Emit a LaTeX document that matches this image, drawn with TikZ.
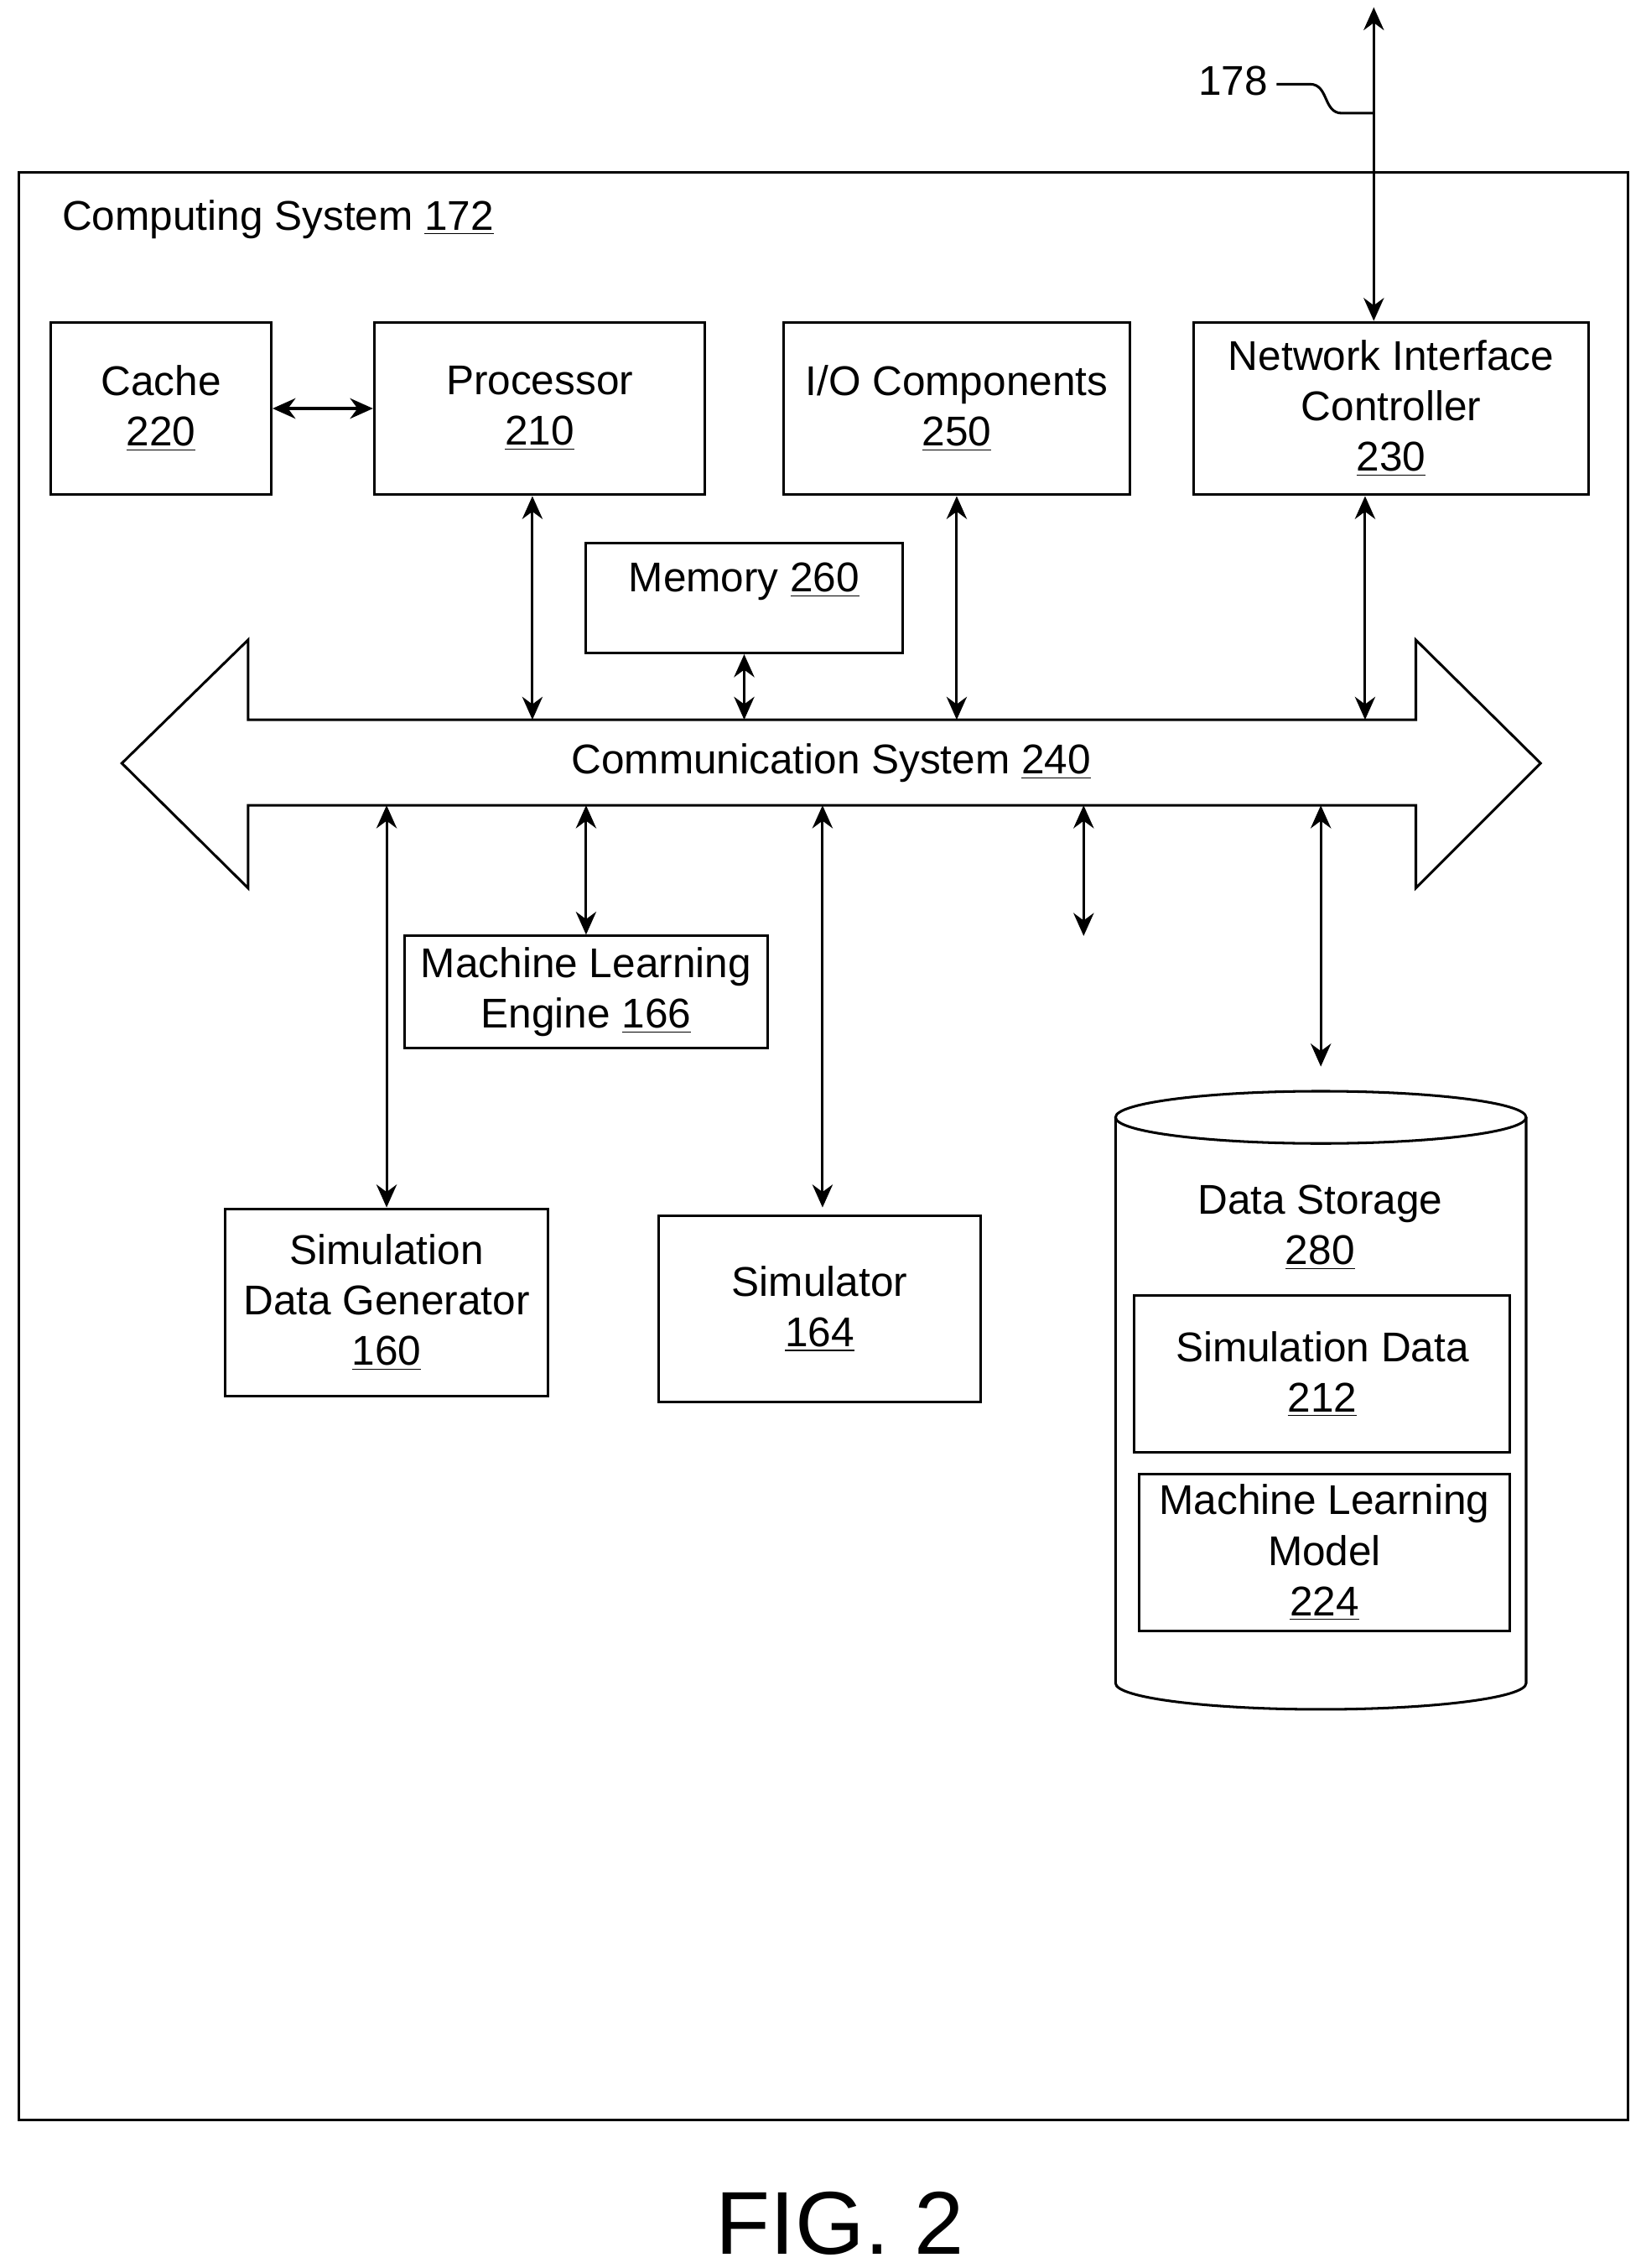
\documentclass[tikz,border=0pt]{standalone}
\usepackage{fontspec}
\setmainfont{Liberation Sans}
\usetikzlibrary{arrows.meta}
\newcommand\mybox[6]{\node[box,minimum width={(#4-#2)*0.02cm},minimum height={(#5-#3)*0.02cm}] (#1) at ({(#2+#4)/2},{(#3+#5)/2}) {#6};}
\begin{document}
\begin{tikzpicture}[x=0.02cm,y=-0.02cm,line width=1pt,
  box/.style={draw,inner sep=0pt,align=center,font=\fontsize{16.3}{19.8}\selectfont},
  lbl/.style={font=\fontsize{16.3}{19.8}\selectfont,inner sep=0pt,align=center},
  arr/.style={{Stealth[length=9pt,width=8pt]}-{Stealth[length=9pt,width=8pt]}}]
\useasboundingbox (0,0) rectangle (1131,1563);
\draw (13,119) rectangle (1122,1461);
\node[lbl,anchor=west] (title) at (42,151) {Computing System \underline{172}};
\mybox{cache}{35}{222}{187}{341}{Cache\\\underline{220}}
\mybox{proc}{258}{222}{486}{341}{Processor\\\underline{210}}
\mybox{io}{540}{222}{779}{341}{I/O Components\\\underline{250}}
\mybox{nic}{823}{222}{1095}{341}{Network Interface\\Controller\\\underline{230}}
\node[draw,minimum width={218*0.02cm},minimum height={76*0.02cm}] (mem) at (513,412) {};
\node[lbl] at (513,401) {Memory \underline{260}};
\draw (84,526) -- (171,441) -- (171,496) -- (976,496) -- (976,441) -- (1062,526) -- (976,612) -- (976,555) -- (171,555) -- (171,612) -- cycle;
\node[lbl] (bus) at (573,526) {Communication System \underline{240}};
\coordinate (bt) at (0,496);
\coordinate (bb) at (0,555);
\mybox{mle}{279}{645}{529}{722}{Machine Learning\\Engine \underline{166}}
\mybox{sdg}{155}{833}{378}{962}{Simulation\\Data Generator\\\underline{160}}
\mybox{sim}{454}{838}{676}{966}{Simulator\\\underline{164}}
% cylinder
\draw (769,770) -- (769,1160) arc[start angle=180,end angle=360,x radius=141.5,y radius=-18] -- (1052,770);
\draw (910.5,770) ellipse[x radius=141.5,y radius=18];
\coordinate (ds) at (910.5,752);
\node[lbl] (dsl) at (910,846) {Data Storage\\\underline{280}};
\mybox{sdata}{782}{893}{1041}{1001}{Simulation Data\\\underline{212}}
\mybox{mlm}{785}{1016}{1041}{1124}{Machine Learning\\Model\\\underline{224}}
% connectors
\draw[arr] (cache.east) -- (proc.west);
\draw[arr] ([xshift=-0.1cm]proc.south) -- ([xshift=-0.1cm]proc.south |- bt);
\draw[arr] (mem.south) -- (mem.south |- bt);
\draw[arr] (io.south) -- (io.south |- bt);
\draw[arr] ([xshift=-0.36cm]nic.south) -- ([xshift=-0.36cm]nic.south |- bt);
\coordinate (net) at (947,5);
\draw[arr] (net) -- (net |- nic.north);
\node[lbl] (n178) at (850,56) {178};
\draw (880,58) -- (903,58) .. controls (916,58) and (912,78) .. (925,78) -- (947,78);
\draw[arr] (sdg.north |- bb) -- (sdg.north);
\draw[arr] (mle.north |- bb) -- (mle.north);
\draw[arr] ([xshift=0.04cm]sim.north |- bb) -- ([xshift=0.04cm,yshift=0.1cm]sim.north);
\coordinate (free) at (747,645);
\draw[arr] (free |- bb) -- (free);
\draw[arr] (ds |- bb) -- ([yshift=0.34cm]ds);
\node[font=\fontsize{35}{40}\selectfont,inner sep=0pt] (fig) at (579,1532) {FIG. 2};
\end{tikzpicture}
\end{document}
